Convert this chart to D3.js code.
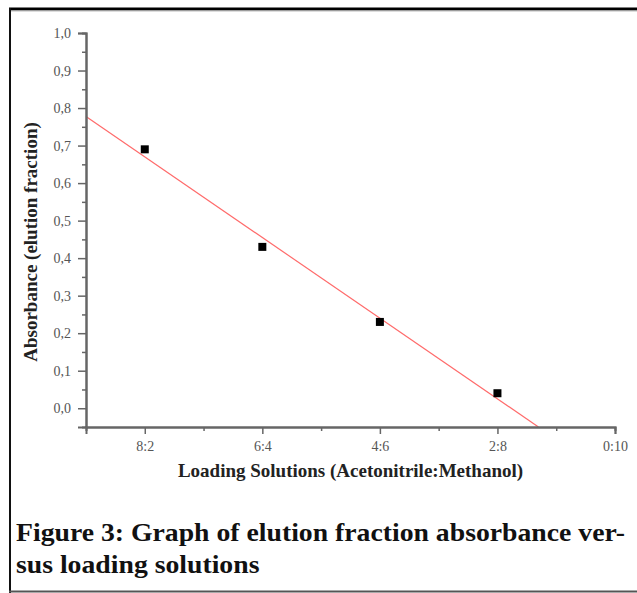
<!DOCTYPE html>
<html>
<head>
<meta charset="utf-8">
<script src="https://cdn.jsdelivr.net/npm/d3@7"></script>
<style>
  body { margin: 0; background: #fff; }
  svg { display: block; }
</style>
</head>
<body>
<div id="plot"></div>
<script>
var w = 637;
var h = 593;

// data
var solutions = ["8:2", "6:4", "4:6", "2:8", "0:10"];
var solutionIndex = [1, 2, 3, 4];
var absorbance = [0.69, 0.43, 0.23, 0.04];
var yTicks = [0.0, 0.1, 0.2, 0.3, 0.4, 0.5, 0.6, 0.7, 0.8, 0.9, 1.0];

var margin = { left: 86, right: 22, top: 33, bottom: 166 };

var xScale = d3.scaleLinear()
  .domain([0.5, 5])
  .range([margin.left, w - margin.right]);

var yScale = d3.scaleLinear()
  .domain([-0.05, 1.0])
  .range([h - margin.bottom, margin.top]);

var svg = d3.select("#plot").append("svg").attr("width", w).attr("height", h);

// frame of the figure box
svg.append("line").attr("x1", 9).attr("x2", w).attr("y1", 9).attr("y2", 9)
  .attr("stroke", "#000").attr("stroke-width", 3);
svg.append("line").attr("x1", 9).attr("x2", w).attr("y1", 11).attr("y2", 11)
  .attr("stroke", "#bbb").attr("stroke-width", 1);
svg.append("line").attr("x1", 10).attr("x2", 10).attr("y1", 8).attr("y2", 593)
  .attr("stroke", "#111").attr("stroke-width", 2);
svg.append("line").attr("x1", 9).attr("x2", w).attr("y1", 591.5).attr("y2", 591.5)
  .attr("stroke", "#555").attr("stroke-width", 2);

// least squares fit line
var mx = d3.mean(solutionIndex), my = d3.mean(absorbance);
var sxy = d3.sum(solutionIndex, (x, i) => (x - mx) * (absorbance[i] - my));
var sxx = d3.sum(solutionIndex, (x) => (x - mx) * (x - mx));
var slope = sxy / sxx;
var intercept = my - slope * mx;
var xStart = 0.5;
var xEnd = (-0.05 - intercept) / slope;

svg.append("line")
  .attr("x1", xScale(xStart)).attr("y1", yScale(intercept + slope * xStart))
  .attr("x2", xScale(xEnd)).attr("y2", yScale(-0.05))
  .attr("stroke", "#ff6b6b").attr("stroke-width", 1.2);

// axes
var axisColor = "#666";
var yMinor = d3.range(-0.05, 1.0, 0.1).map((d) => +d.toFixed(2)).filter((d) => d > -0.05);
var xMinor = [1.5, 2.5, 3.5, 4.5];

var yAxis = d3.axisLeft(yScale).tickValues(yTicks).tickSize(8).tickPadding(7)
  .tickFormat((d) => d3.format(".1f")(d).replace(".", ","));
var yAxisMinor = d3.axisLeft(yScale).tickValues(yMinor).tickSize(4).tickFormat("");
var xAxis = d3.axisBottom(xScale).tickValues([1, 2, 3, 4, 5]).tickSize(7).tickPadding(7)
  .tickFormat((d) => solutions[d - 1]);
var xAxisMinor = d3.axisBottom(xScale).tickValues(xMinor).tickSize(4).tickFormat("");

function styleAxis(g) {
  g.select(".domain").attr("stroke", axisColor).attr("stroke-width", 2);
  g.selectAll(".tick line").attr("stroke", axisColor).attr("stroke-width", 1.5);
  g.selectAll(".tick text").attr("fill", "#555")
    .attr("font-family", "Liberation Serif").attr("font-size", "14px");
}

svg.append("g").attr("transform", "translate(" + margin.left + ",0)").call(yAxisMinor).call(styleAxis);
svg.append("g").attr("transform", "translate(" + margin.left + ",0)").call(yAxis).call(styleAxis);
svg.append("g").attr("transform", "translate(0," + (h - margin.bottom) + ")").call(xAxisMinor).call(styleAxis);
svg.append("g").attr("transform", "translate(0," + (h - margin.bottom) + ")").call(xAxis).call(styleAxis);

// data points
svg.selectAll("rect.pt")
  .data(solutionIndex)
  .enter()
  .append("rect")
  .attr("class", "pt")
  .attr("x", (d) => xScale(d) - 4)
  .attr("y", (d, i) => yScale(absorbance[i]) - 4)
  .attr("width", 8)
  .attr("height", 8)
  .attr("fill", "#000");

// axis titles
svg.append("text")
  .attr("x", (xScale.range()[0] + xScale.range()[1]) / 2)
  .attr("y", 477)
  .attr("text-anchor", "middle")
  .attr("font-family", "Liberation Serif")
  .attr("font-weight", "bold")
  .attr("font-size", "19px")
  .attr("fill", "#222")
  .text("Loading Solutions (Acetonitrile:Methanol)");

svg.append("text")
  .attr("transform", "translate(37,242) rotate(-90)")
  .attr("text-anchor", "middle")
  .attr("font-family", "Liberation Serif")
  .attr("font-weight", "bold")
  .attr("font-size", "19px")
  .attr("fill", "#222")
  .text("Absorbance (elution fraction)");

// caption, stretched a little to the width of the original serif
var caption = ["Figure 3: Graph of elution fraction absorbance ver-", "sus loading solutions"];
var capText = svg.selectAll("text.caption")
  .data(caption)
  .enter()
  .append("text")
  .attr("class", "caption")
  .attr("x", 16)
  .attr("y", (d, i) => 541 + i * 32)
  .attr("font-family", "Liberation Serif")
  .attr("font-weight", "bold")
  .attr("font-size", "25px")
  .attr("fill", "#111")
  .text((d) => d);

var stretch = 609 / capText.nodes()[0].getComputedTextLength();
capText.each(function () {
  d3.select(this)
    .attr("textLength", this.getComputedTextLength() * stretch)
    .attr("lengthAdjust", "spacingAndGlyphs");
});
</script>
</body>
</html>
